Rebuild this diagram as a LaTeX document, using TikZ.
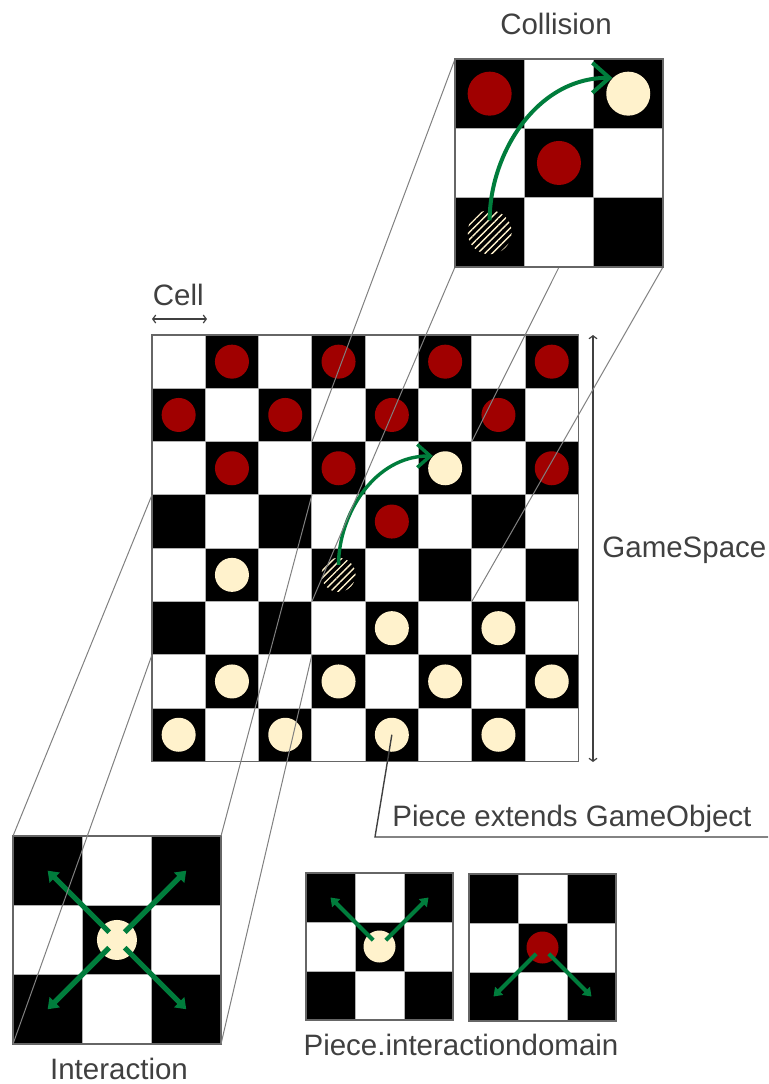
\documentclass[tikz,border=0pt]{standalone}
\usepackage{fontspec}
\setmainfont{Liberation Sans}
\usepackage{tikz}
\usetikzlibrary{arrows.meta, patterns.meta}

\definecolor{piecered}{RGB}{160,0,0}
\definecolor{piececream}{RGB}{255,242,204}
\definecolor{movegreen}{RGB}{0,125,60}
\definecolor{labelgray}{RGB}{64,64,64}

% x, y, cell size, last index, parity of the top left cell
\newcommand{\checkboard}[5]{%
  \foreach \row in {0,...,#4}
    \foreach \col in {0,...,#4} {
      \ifodd\numexpr\row+\col+#5\relax \def\cellcol{black}\else \def\cellcol{white}\fi
      \filldraw[cellbox, fill=\cellcol] ({#1+\col*#3},{#2+\row*#3}) rectangle ++(#3,#3);
    }
  \draw[boardframe] (#1,#2) rectangle ++({(#4+1)*#3},{(#4+1)*#3});
}

\begin{document}
\begin{tikzpicture}[
  x=0.5pt, y=-0.5pt,
  cellbox/.style={draw=gray!60, line width=0.5pt},
  boardframe/.style={draw=gray!80!black, line width=0.6pt},
  redpc/.style={circle, fill=piecered, inner sep=0pt, minimum size=#1},
  redpc/.default=17pt,
  creampc/.style={circle, fill=piececream, inner sep=0pt, minimum size=#1},
  creampc/.default=17pt,
  hatchpc/.style={circle, inner sep=0pt, minimum size=#1, pattern={Lines[angle=45,distance=2.6pt,line width=0.7pt]}, pattern color=piececream},
  hatchpc/.default=17pt,
  jumparr/.style={movegreen, line width=#1},
  jumparr/.default=1.7pt,
  reacharr/.style={movegreen, line width=#1},
  reacharr/.default=2pt,
  projline/.style={gray, line width=0.5pt},
  dimline/.style={<->, >={Straight Barb[length=1.5pt,width=4pt]}, labelgray, line width=0.6pt},
  leader/.style={labelgray, line width=0.7pt},
  txt/.style={font=\fontsize{14.75}{17}\selectfont, text=labelgray, inner sep=0pt}
]
\useasboundingbox (0,0) rectangle (768,1084);

% GameSpace
\checkboard{152}{335}{53.3}{7}{0}
\foreach \col/\row in {1/0,3/0,5/0,7/0,0/1,2/1,4/1,6/1,1/2,3/2,7/2,4/3}
  \node[redpc] (m-\col-\row) at ({152+(\col+0.5)*53.3},{335+(\row+0.5)*53.3}) {};
\foreach \col/\row in {5/2,1/4,4/5,6/5,1/6,3/6,5/6,7/6,0/7,2/7,4/7,6/7}
  \node[creampc] (m-\col-\row) at ({152+(\col+0.5)*53.3},{335+(\row+0.5)*53.3}) {};
\node[hatchpc] (m-3-4) at ({152+3.5*53.3},{335+4.5*53.3}) {};
\draw[jumparr, -{Straight Barb[length=6.5pt,width=11.5pt]}, shorten <=5pt] (m-3-4.center) to[out=90,in=180] (m-5-2.135);

\coordinate (cell-l) at (152,319);
\coordinate (cell-r) at (207,319);
\draw[dimline] (cell-l) -- (cell-r);
\node[txt, anchor=base west] (cell-lbl) at (152.5,305) {Cell};
\coordinate (space-t) at (593,335);
\coordinate (space-b) at (593,762);
\draw[dimline] (space-t) -- (space-b);
\node[txt, anchor=base west] (space-lbl) at (602,557) {GameSpace};

\coordinate (lead-bend) at (375,837);
\coordinate (lead-end) at (768,837);
\draw[leader] (m-4-7.center) -- (lead-bend) -- (lead-end);
\node[txt, anchor=base west] (piece-lbl) at (392,826) {Piece extends GameObject};

% Interaction
\checkboard{13}{836}{69.3}{2}{1}
\node[creampc=20pt] (i-p) at ({13+1.5*69.3},{836+1.5*69.3}) {};
\coordinate (i-nw) at ({13+0.5*69.3},{836+0.5*69.3});
\coordinate (i-ne) at ({13+2.5*69.3},{836+0.5*69.3});
\coordinate (i-sw) at ({13+0.5*69.3},{836+2.5*69.3});
\coordinate (i-se) at ({13+2.5*69.3},{836+2.5*69.3});
\foreach \k in {nw,ne,sw,se}
  \draw[reacharr=2.6pt, -{Triangle[length=5pt,width=7pt]}, shorten <=5.5pt] (i-p.center) -- (i-\k);
\node[txt, anchor=base] (inter-lbl) at (119,1079) {Interaction};

% Piece.interactiondomain
\checkboard{306}{873}{49}{2}{1}
\node[creampc=16pt] (a-p) at (379.5,946.5) {};
\coordinate (a-nw) at (330.5,897.5);
\coordinate (a-ne) at (428.5,897.5);
\draw[reacharr, -{Triangle[length=4pt,width=5.5pt]}, shorten <=4.5pt] (a-p.center) -- (a-nw);
\draw[reacharr, -{Triangle[length=4pt,width=5.5pt]}, shorten <=4.5pt] (a-p.center) -- (a-ne);
\checkboard{469}{874}{49}{2}{1}
\node[redpc=16pt] (b-p) at (542.5,947.5) {};
\coordinate (b-sw) at (493.5,996.5);
\coordinate (b-se) at (591.5,996.5);
\draw[reacharr, -{Triangle[length=4pt,width=5.5pt]}, shorten <=4.5pt] (b-p.center) -- (b-sw);
\draw[reacharr, -{Triangle[length=4pt,width=5.5pt]}, shorten <=4.5pt] (b-p.center) -- (b-se);
\node[txt, anchor=base] (domain-lbl) at (461,1055) {Piece.interactiondomain};

% projection lines
\coordinate (c-tl) at (455,59);
\coordinate (c-tr) at (663,59);
\coordinate (c-bl) at (455,267);
\coordinate (c-br) at (663,267);
\coordinate (mc-tl) at (311.9,441.6);
\coordinate (mc-tr) at (471.8,441.6);
\coordinate (mc-bl) at (311.9,601.5);
\coordinate (mc-br) at (471.8,601.5);
\coordinate (i-tl) at (13,836);
\coordinate (i-tr) at (221,836);
\coordinate (i-bl) at (13,1044);
\coordinate (i-br) at (221,1044);
\coordinate (mi-tl) at (152,494.9);
\coordinate (mi-tr) at (311.9,494.9);
\coordinate (mi-bl) at (152,654.8);
\coordinate (mi-br) at (311.9,654.8);
\foreach \k in {tl,tr,bl,br} {
  \draw[projline] (c-\k) -- (mc-\k);
  \draw[projline] (i-\k) -- (mi-\k);
}

% Collision
\checkboard{455}{59}{69.3}{2}{1}
\node[redpc=22pt] (c-0-0) at (489.65,93.65) {};
\node[creampc=22pt] (c-2-0) at (628.25,93.65) {};
\node[redpc=22pt] (c-1-1) at (558.95,162.95) {};
\node[hatchpc=22pt] (c-0-2) at (489.65,232.25) {};
\draw[jumparr=2pt, -{Straight Barb[length=8.5pt,width=15pt]}, shorten <=6pt] (c-0-2.center) to[out=90,in=180] (c-2-0.135);
\node[txt, anchor=base] (coll-lbl) at (556,34) {Collision};
\end{tikzpicture}
\end{document}
